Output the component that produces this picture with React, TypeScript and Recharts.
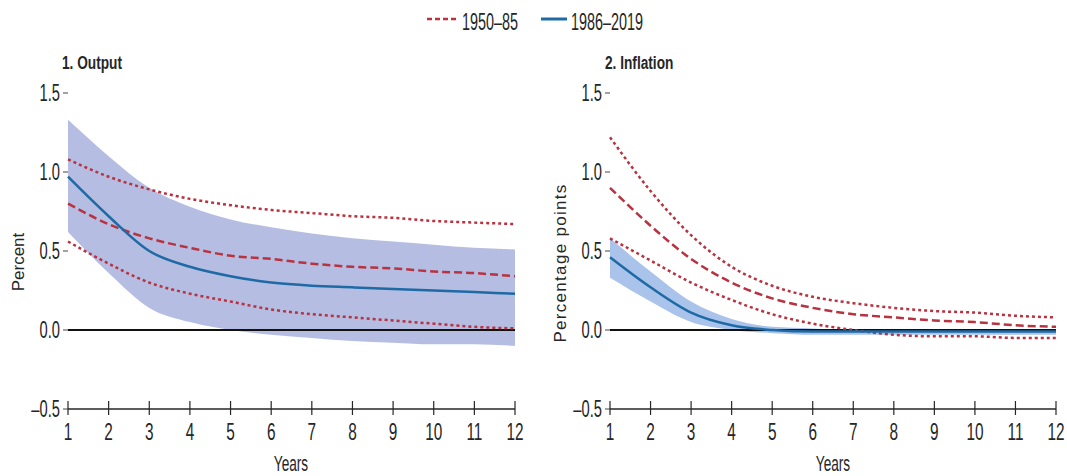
import React from 'react';
import {
  ComposedChart,
  Area,
  Line,
  XAxis,
  YAxis,
  ReferenceLine,
} from 'recharts';

const years = [1, 2, 3, 4, 5, 6, 7, 8, 9, 10, 11, 12];
const yTicks = [-0.5, 0, 0.5, 1, 1.5];

// 1. Output
const outputBlue = [0.97, 0.72, 0.5, 0.4, 0.34, 0.3, 0.28, 0.27, 0.26, 0.25, 0.24, 0.23];
const outputBandHi = [1.33, 1.1, 0.9, 0.78, 0.7, 0.65, 0.61, 0.58, 0.56, 0.54, 0.52, 0.51];
const outputBandLo = [0.62, 0.36, 0.14, 0.05, 0.0, -0.03, -0.05, -0.07, -0.08, -0.09, -0.09, -0.1];
const outputOldHi = [1.08, 0.97, 0.89, 0.83, 0.79, 0.76, 0.74, 0.72, 0.71, 0.69, 0.68, 0.67];
const outputOldMid = [0.8, 0.67, 0.58, 0.52, 0.47, 0.45, 0.42, 0.4, 0.39, 0.37, 0.36, 0.34];
const outputOldLo = [0.56, 0.42, 0.3, 0.23, 0.18, 0.13, 0.1, 0.08, 0.06, 0.04, 0.02, 0.01];

// 2. Inflation
const inflBlue = [0.46, 0.27, 0.11, 0.03, 0.0, -0.01, -0.01, -0.01, -0.01, -0.01, -0.01, -0.01];
const inflBandHi = [0.58, 0.37, 0.18, 0.07, 0.02, 0.01, 0.0, 0.0, 0.0, 0.0, 0.0, 0.0];
const inflBandLo = [0.33, 0.18, 0.05, 0.0, -0.02, -0.03, -0.03, -0.03, -0.03, -0.03, -0.03, -0.03];
const inflOldHi = [1.22, 0.88, 0.6, 0.4, 0.28, 0.21, 0.17, 0.14, 0.12, 0.11, 0.09, 0.08];
const inflOldMid = [0.9, 0.66, 0.45, 0.3, 0.2, 0.14, 0.1, 0.08, 0.06, 0.05, 0.03, 0.02];
const inflOldLo = [0.58, 0.44, 0.3, 0.19, 0.1, 0.04, 0.0, -0.03, -0.04, -0.04, -0.05, -0.05];

const FONT = '"Liberation Sans", Arial, sans-serif';
const RED = '#b8323f';
const BLUE = '#1e6aa5';
const INK = '#262626';

const fmtY = (v: number) => (v < 0 ? '\u2013' + Math.abs(v).toFixed(1) : v.toFixed(1));

// condensed look: no narrow font installed, so squeeze horizontally
const Narrow = ({ x, y, size, sx = 0.64, anchor = 'start', bold = false, children }: any) => (
  <text
    transform={`translate(${x},${y}) scale(${sx},1)`}
    textAnchor={anchor}
    fontSize={size}
    fontFamily={FONT}
    fontWeight={bold ? 'bold' : 'normal'}
    fill={INK}
  >
    {children}
  </text>
);

const XTick = (props: any) => {
  const { x, y, payload } = props;
  return (
    <g>
      <line x1={x} x2={x} y1={y - 8} y2={y + 6} stroke={INK} strokeWidth={1.2} />
      <Narrow x={x} y={y + 31} size={24} sx={0.64} anchor="middle">
        {payload.value}
      </Narrow>
    </g>
  );
};

const YTick = (props: any) => {
  const { x, y, payload } = props;
  return (
    <Narrow x={x} y={y + 8} size={23} sx={0.64} anchor="end">
      {fmtY(payload.value)}
    </Narrow>
  );
};

const build = (blue: number[], hi: number[], lo: number[], oHi: number[], oMid: number[], oLo: number[]) =>
  years.map((yr, i) => ({
    year: yr,
    blue: blue[i],
    band: [lo[i], hi[i]],
    oldHi: oHi[i],
    oldMid: oMid[i],
    oldLo: oLo[i],
  }));

const Panel = ({ data, width, rightW, bandFill }: any) => (
  <ComposedChart width={width} height={476} data={data} margin={{ top: 93, right: 0, bottom: 0, left: 0 }}>
    <XAxis
      dataKey="year"
      type="number"
      domain={[1, 12]}
      ticks={years}
      interval={0}
      tickLine={false}
      tickSize={0}
      tickMargin={0}
      tick={<XTick />}
      axisLine={{ stroke: INK, strokeWidth: 1.3 }}
      height={67}
    />
    <YAxis
      yAxisId="l"
      domain={[-0.5, 1.5]}
      ticks={yTicks}
      width={68}
      axisLine={false}
      tickSize={5}
      tickMargin={3}
      tickLine={{ stroke: '#444' }}
      tick={<YTick />}
    />
    <YAxis
      yAxisId="r"
      orientation="right"
      domain={[-0.5, 1.5]}
      ticks={yTicks}
      width={rightW}
      axisLine={false}
      tickSize={5}
      tickLine={{ stroke: '#444' }}
      tick={() => <g />}
    />
    <Area
      yAxisId="l"
      type="monotone"
      dataKey="band"
      stroke="none"
      fill={bandFill}
      fillOpacity={1}
      isAnimationActive={false}
    />
    <ReferenceLine yAxisId="l" y={0} stroke="#111" strokeWidth={1.8} />
    <Line yAxisId="l" type="monotone" dataKey="oldHi" stroke={RED} strokeWidth={2.5} strokeDasharray="3 3" dot={false} isAnimationActive={false} />
    <Line yAxisId="l" type="monotone" dataKey="oldMid" stroke={RED} strokeWidth={2.5} strokeDasharray="8 4" dot={false} isAnimationActive={false} />
    <Line yAxisId="l" type="monotone" dataKey="oldLo" stroke={RED} strokeWidth={2.5} strokeDasharray="3 3" dot={false} isAnimationActive={false} />
    <Line yAxisId="l" type="monotone" dataKey="blue" stroke={BLUE} strokeWidth={2.5} dot={false} isAnimationActive={false} />
  </ComposedChart>
);

export default function App() {
  const outData = build(outputBlue, outputBandHi, outputBandLo, outputOldHi, outputOldMid, outputOldLo);
  const inflData = build(inflBlue, inflBandHi, inflBandLo, inflOldHi, inflOldMid, inflOldLo);

  return (
    <div style={{ position: 'absolute', left: 0, top: 0, width: 1067, height: 476, background: '#fff', overflow: 'hidden' }}>
      <div style={{ position: 'absolute', left: 0, top: 0 }}>
        <Panel data={outData} width={540} rightW={25} bandFill="#b5bde2" />
      </div>
      <div style={{ position: 'absolute', left: 542, top: 0 }}>
        <Panel data={inflData} width={525} rightW={11} bandFill="#a9c3ea" />
      </div>

      <svg style={{ position: 'absolute', left: 0, top: 0, pointerEvents: 'none' }} width={1067} height={476}>
        {/* legend */}
        <line x1={427} x2={457} y1={19} y2={19} stroke={RED} strokeWidth={2.5} strokeDasharray="5 3" />
        <Narrow x={462} y={30} size={24} sx={0.6}>1950–85</Narrow>
        <line x1={541} x2={567} y1={19} y2={19} stroke={BLUE} strokeWidth={3} />
        <Narrow x={571} y={30} size={24} sx={0.6}>1986–2019</Narrow>

        {/* panel titles */}
        <Narrow x={62} y={69} size={19} sx={0.72} bold>1. Output</Narrow>
        <Narrow x={605} y={69} size={19} sx={0.72} bold>2. Inflation</Narrow>

        {/* x-axis titles */}
        <Narrow x={291} y={471} size={22} sx={0.62} anchor="middle">Years</Narrow>
        <Narrow x={833} y={471} size={22} sx={0.62} anchor="middle">Years</Narrow>

        {/* y-axis titles */}
        <text
          transform="translate(24,262) rotate(-90)"
          textAnchor="middle"
          fontSize={17}
          fontFamily={FONT}
          fill={INK}
        >
          Percent
        </text>
        <text
          transform="translate(566,263) rotate(-90)"
          textAnchor="middle"
          fontSize={17}
          letterSpacing={1.3}
          fontFamily={FONT}
          fill={INK}
        >
          Percentage points
        </text>
      </svg>
    </div>
  );
}
